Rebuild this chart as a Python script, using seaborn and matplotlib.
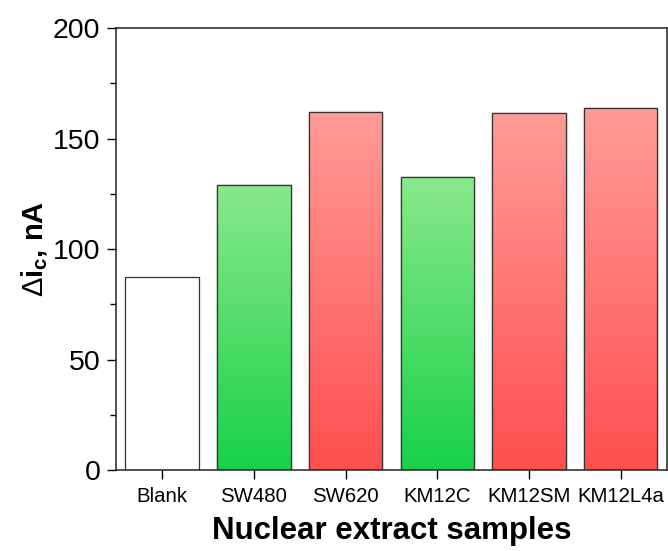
import numpy as np
import pandas as pd
import seaborn as sns
import matplotlib
matplotlib.use("Agg")
from matplotlib import pyplot as plt
from matplotlib.colors import LinearSegmentedColormap
from matplotlib.ticker import MultipleLocator

# data
samples = ['Blank', 'SW480', 'SW620', 'KM12C', 'KM12SM', 'KM12L4a']
delta_ic = [87.5, 129.0, 162.0, 132.5, 161.5, 164.0]
groups = ['blank', 'green', 'red', 'green', 'red', 'red']

df = pd.DataFrame({'sample': samples, 'value': delta_ic, 'group': groups})

sns.set_theme(style='ticks')
plt.rcParams['font.family'] = ['Liberation Sans', 'DejaVu Sans']
plt.rcParams['text.color'] = 'black'
plt.rcParams['axes.labelcolor'] = 'black'
plt.rcParams['xtick.color'] = 'black'
plt.rcParams['ytick.color'] = 'black'
plt.rcParams['mathtext.fontset'] = 'custom'
plt.rcParams['mathtext.rm'] = 'Liberation Sans'
plt.rcParams['mathtext.bf'] = 'Liberation Sans:bold'

fig, ax = plt.subplots(figsize=(6.68, 5.51), dpi=100)
fig.subplots_adjust(left=0.174, right=0.998, top=0.949, bottom=0.147)

sns.barplot(data=df, x='sample', y='value', color='white', width=0.8,
            edgecolor='#333333', linewidth=0.9, ax=ax, zorder=2)

# gradient fills, light at top, saturated at bottom
cmaps = {
    'green': LinearSegmentedColormap.from_list('g', ['#18d14a', '#8ae88c']),
    'red': LinearSegmentedColormap.from_list('r', ['#ff4f4f', '#ff9b96']),
}
grad = np.linspace(0, 1, 256).reshape(-1, 1)
for patch, grp in zip(ax.patches, df['group']):
    if grp not in cmaps:
        continue
    x0, y0 = patch.get_x(), patch.get_y()
    w, h = patch.get_width(), patch.get_height()
    im = ax.imshow(grad, cmap=cmaps[grp], aspect='auto', origin='lower',
                   extent=(x0, x0 + w, y0, y0 + h), zorder=2.5)
    im.set_clip_path(patch)
    edge = plt.Rectangle((x0, y0), w, h, fill=False, edgecolor='#333333',
                         linewidth=0.9, zorder=3)
    ax.add_patch(edge)

ax.set_xlim(-0.5, 5.5)
ax.set_ylim(0, 200)
ax.yaxis.set_major_locator(MultipleLocator(50))
ax.yaxis.set_minor_locator(MultipleLocator(25))
ax.tick_params(axis='y', which='major', labelsize=20.5, length=6.5, width=1,
               direction='out', pad=5)
ax.tick_params(axis='y', which='minor', length=4, width=1, direction='out')
ax.tick_params(axis='x', labelsize=14.7, length=6.5, width=1, direction='out', pad=6)

for s in ax.spines.values():
    s.set_visible(True)
    s.set_color('#222222')
    s.set_linewidth(1.1)

ax.set_xlabel('Nuclear extract samples', fontsize=22.5, fontweight='bold', labelpad=7)
ax.set_ylabel(r'$\Delta\mathbf{i_c}$, nA', fontsize=21, fontweight='bold', labelpad=2)

fig.savefig('out.png', dpi=100)
